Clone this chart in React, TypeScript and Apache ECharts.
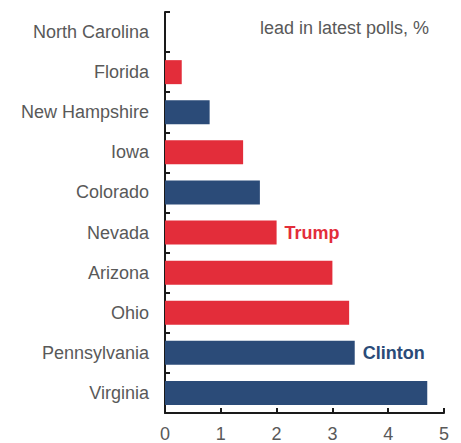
import React, { useEffect, useRef } from "react";
import * as echarts from "echarts";

const states = [
  "North Carolina",
  "Florida",
  "New Hampshire",
  "Iowa",
  "Colorado",
  "Nevada",
  "Arizona",
  "Ohio",
  "Pennsylvania",
  "Virginia",
];
const leads = [0, 0.3, 0.8, 1.4, 1.7, 2.0, 3.0, 3.3, 3.4, 4.7];
const leader = ["Tie", "Trump", "Clinton", "Trump", "Clinton", "Trump", "Trump", "Trump", "Clinton", "Clinton"];
const labelled = ["Nevada", "Pennsylvania"];
const xTicks = [0, 1, 2, 3, 4, 5];

const RED = "#e32d3a";
const BLUE = "#2b4b78";
const FONT = "'Liberation Sans', Arial, sans-serif";
const GREY = "#595959";

export default function App() {
  const ref = useRef<HTMLDivElement>(null);
  useEffect(() => {
    if (!ref.current) return;
    const chart = echarts.init(ref.current, undefined, { renderer: "svg" });
    const data = leads.map((v, i) => {
      const color = leader[i] === "Trump" ? RED : BLUE;
      const showLabel = labelled.includes(states[i]);
      return {
        value: v,
        itemStyle: { color },
        label: showLabel
          ? {
              show: true,
              position: "right",
              distance: 8,
              formatter: leader[i],
              color,
              fontWeight: "bold",
              fontSize: 18,
              fontFamily: FONT,
            }
          : { show: false },
      };
    });
    chart.setOption({
      animation: false,
      grid: { left: 165, right: 17, top: 12, bottom: 30, containLabel: false },
      xAxis: {
        type: "value",
        min: xTicks[0],
        max: xTicks[xTicks.length - 1],
        interval: 1,
        axisLine: { show: true, lineStyle: { color: "#1a1a1a", width: 2 } },
        axisTick: { show: true, inside: true, length: 5, lineStyle: { color: "#1a1a1a", width: 2 } },
        axisLabel: { color: GREY, fontSize: 18, fontFamily: FONT, margin: 12 },
        splitLine: { show: false },
      },
      yAxis: {
        type: "category",
        data: states,
        inverse: true,
        axisLine: { show: true, lineStyle: { color: "#1a1a1a", width: 2 } },
        axisTick: { show: true, inside: true, length: 5, lineStyle: { color: "#1a1a1a", width: 2 } },
        axisLabel: { color: GREY, fontSize: 18, fontFamily: FONT, margin: 16 },
        splitLine: { show: false },
      },
      series: [
        {
          type: "bar",
          data,
          barWidth: 24,
        },
      ],
      graphic: [
        {
          type: "text",
          x: 260,
          y: 19,
          style: {
            text: "lead in latest polls, %",
            fill: GREY,
            fontSize: 18,
            fontFamily: FONT,
          },
        },
      ],
    });
    return () => chart.dispose();
  }, []);
  return (
    <div
      ref={ref}
      style={{ position: "fixed", left: 0, top: 0, width: 461, height: 443, background: "#fff" }}
    />
  );
}
